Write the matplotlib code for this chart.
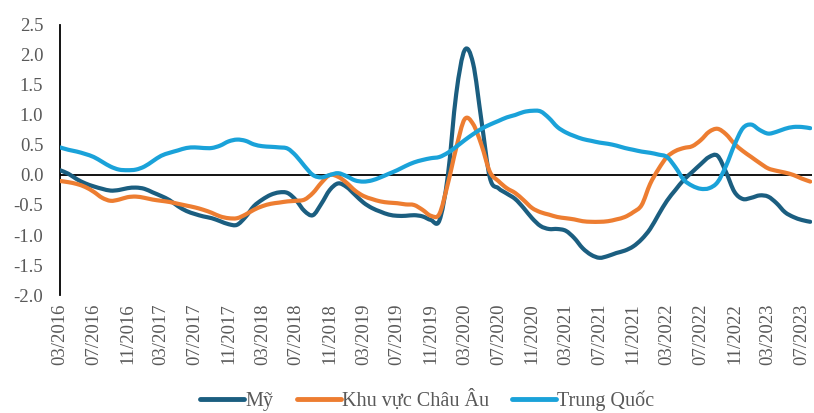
import matplotlib
matplotlib.use('Agg')
import matplotlib.pyplot as plt
from matplotlib.path import Path
from matplotlib.patches import PathPatch
import numpy as np

# du lieu theo thang, 03/2016 - 08/2023
thang = ['03/2016', '07/2016', '11/2016', '03/2017', '07/2017', '11/2017',
         '03/2018', '07/2018', '11/2018', '03/2019', '07/2019', '11/2019',
         '03/2020', '07/2020', '11/2020', '03/2021', '07/2021', '11/2021',
         '03/2022', '07/2022', '11/2022', '03/2023', '07/2023']

my = [0.08, 0.02, -0.07, -0.14, -0.19, -0.23, -0.26, -0.25, -0.22, -0.21,
      -0.23, -0.29, -0.35, -0.42, -0.52, -0.60, -0.65, -0.69, -0.72, -0.77,
      -0.82, -0.83, -0.70, -0.52, -0.41, -0.33, -0.29, -0.30, -0.42, -0.60,
      -0.67, -0.48, -0.25, -0.14, -0.20, -0.33, -0.46, -0.55, -0.61, -0.66,
      -0.68, -0.68, -0.67, -0.69, -0.75, -0.76, -0.02, 1.35, 2.08, 1.86,
      0.90, -0.05, -0.22, -0.31, -0.40, -0.55, -0.72, -0.85, -0.90, -0.90,
      -0.93, -1.05, -1.22, -1.33, -1.38, -1.35, -1.30, -1.26, -1.19, -1.07,
      -0.90, -0.66, -0.43, -0.25, -0.08, 0.05, 0.18, 0.30, 0.32, 0.05,
      -0.28, -0.40, -0.38, -0.34, -0.36, -0.47, -0.62, -0.70, -0.75, -0.78]

chau_au = [-0.10, -0.12, -0.15, -0.20, -0.28, -0.38, -0.43, -0.41, -0.37, -0.36,
           -0.38, -0.41, -0.43, -0.45, -0.48, -0.51, -0.54, -0.58, -0.63, -0.69,
           -0.72, -0.72, -0.66, -0.58, -0.52, -0.48, -0.46, -0.44, -0.43, -0.41,
           -0.30, -0.13, 0.00, -0.03, -0.13, -0.26, -0.35, -0.40, -0.44, -0.46,
           -0.47, -0.49, -0.50, -0.58, -0.68, -0.65, -0.15, 0.45, 0.93, 0.85,
           0.50, 0.05, -0.10, -0.22, -0.30, -0.42, -0.55, -0.62, -0.66, -0.70,
           -0.72, -0.74, -0.77, -0.78, -0.78, -0.77, -0.74, -0.70, -0.62, -0.50,
           -0.15, 0.10, 0.30, 0.40, 0.45, 0.48, 0.58, 0.72, 0.77, 0.68,
           0.52, 0.40, 0.30, 0.20, 0.11, 0.07, 0.04, 0.00, -0.06, -0.11]

trung_quoc = [0.46, 0.42, 0.39, 0.35, 0.30, 0.22, 0.14, 0.09, 0.08, 0.09,
              0.14, 0.23, 0.32, 0.37, 0.41, 0.45, 0.46, 0.45, 0.45, 0.49,
              0.56, 0.59, 0.57, 0.51, 0.48, 0.47, 0.46, 0.44, 0.32, 0.15,
              0.00, -0.04, 0.00, 0.03, -0.02, -0.09, -0.11, -0.09, -0.04, 0.02,
              0.08, 0.15, 0.21, 0.25, 0.28, 0.30, 0.37, 0.47, 0.58, 0.68,
              0.77, 0.84, 0.90, 0.96, 1.00, 1.05, 1.07, 1.06, 0.95, 0.80,
              0.71, 0.65, 0.60, 0.57, 0.54, 0.52, 0.49, 0.45, 0.42, 0.39,
              0.37, 0.34, 0.30, 0.13, -0.08, -0.18, -0.23, -0.22, -0.12, 0.15,
              0.50, 0.78, 0.84, 0.75, 0.69, 0.72, 0.77, 0.80, 0.80, 0.78]

x = np.arange(len(my))


# duong cong muot kieu Excel (Bezier qua cac diem)
def smooth_path(xs, ys):
    p = np.column_stack([xs, ys]).astype(float)
    pp = np.vstack([p[0], p, p[-1]])
    verts = [p[0]]
    codes = [Path.MOVETO]
    for i in range(len(p) - 1):
        c1 = pp[i + 1] + (pp[i + 2] - pp[i]) / 6.0
        c2 = pp[i + 2] - (pp[i + 3] - pp[i + 1]) / 6.0
        verts += [c1, c2, pp[i + 2]]
        codes += [Path.CURVE4] * 3
    return Path(verts, codes)


plt.rcParams['font.family'] = ['Liberation Serif', 'DejaVu Serif']

fig = plt.figure(figsize=(8.14, 4.13), dpi=100)
ax = fig.add_axes([0.0737, 0.2857, 0.9238, 0.6538])

series = [('Mỹ', my, '#1B5E80'),
          ('Khu vực Châu Âu', chau_au, '#ED7D31'),
          ('Trung Quốc', trung_quoc, '#1AA2D9')]
for ten, y, mau in series:
    ax.add_patch(PathPatch(smooth_path(x, y), facecolor='none', edgecolor=mau,
                           lw=3, capstyle='round', joinstyle='round', zorder=3))
    ax.plot([], [], color=mau, lw=3.5, label=ten, solid_capstyle='round')

ax.axhline(0, color='black', lw=1.3, zorder=1)

ax.set_xlim(0, 89.2)
ax.set_ylim(-2.0, 2.5)
ax.set_yticks(np.arange(-2.0, 2.51, 0.5))
ax.set_yticklabels(['%.1f' % v for v in np.arange(-2.0, 2.51, 0.5)])
ax.set_xticks(np.arange(0, len(thang) * 4, 4))
ax.set_xticklabels(thang, rotation=90)
ax.tick_params(axis='both', length=0, labelsize=13.5, colors='#595959')
ax.tick_params(axis='x', pad=6)
ax.tick_params(axis='y', pad=12)

for s in ['top', 'right', 'bottom']:
    ax.spines[s].set_visible(False)
ax.spines['left'].set_linewidth(1.3)
ax.spines['left'].set_color('black')

fig.legend(loc='center', bbox_to_anchor=(0.525, 0.031), ncol=3, frameon=False,
           fontsize=14.5, handlelength=2.2, handletextpad=0.05, columnspacing=1.15,
           labelcolor='#595959')

plt.savefig('out.png', dpi=100)
